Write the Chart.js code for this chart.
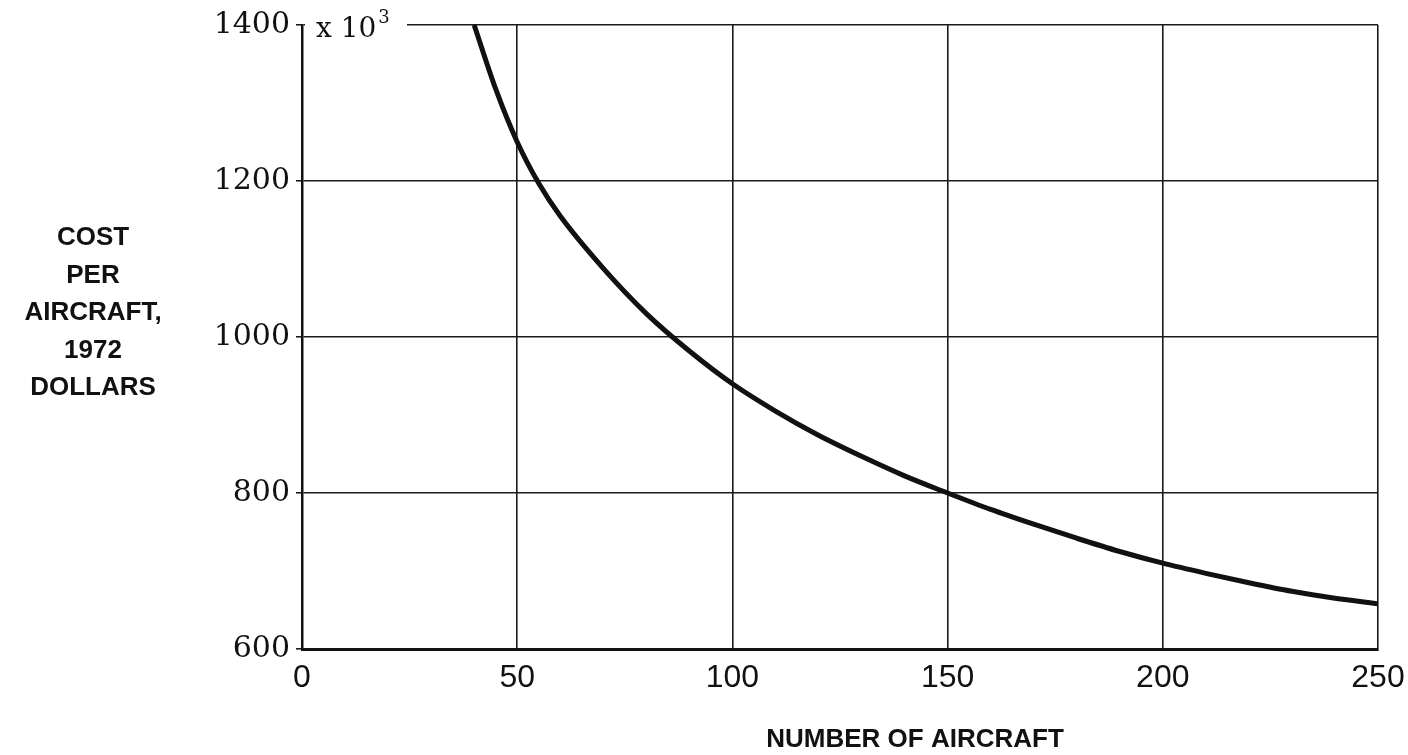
<!DOCTYPE html>
<html>
<head>
<meta charset="utf-8">
<title>Cost per aircraft</title>
<script src="https://cdn.jsdelivr.net/npm/chart.js@4.4.1/dist/chart.umd.min.js"></script>
<style>
    html, body { margin: 0; padding: 0; background: #fff; }
    #wrap { position: relative; width: 1408px; height: 755px; }
</style>
</head>
<body>
<div id="wrap"><canvas id="chartCosto"></canvas></div>
<script>
// ============================================
// Datos
// ============================================
const numAviones = [40, 45, 50, 55, 60, 70, 80, 90, 100, 110, 120, 130, 140, 150,
                    160, 170, 180, 190, 200, 210, 220, 230, 240, 250];
const costoPorAvion = [1400, 1318, 1250, 1197, 1155, 1088, 1030, 982, 940, 905, 874, 847, 822, 800,
                       779, 760, 742, 725, 710, 697, 685, 674, 665, 658];

const xTicks = [0, 50, 100, 150, 200, 250];
const yTicks = [600, 800, 1000, 1200, 1400];

const tituloY = ['COST', 'PER', 'AIRCRAFT,', '1972', 'DOLLARS'];
const tituloX = 'NUMBER OF AIRCRAFT';
const escala = ['x 10', '3'];

const ink = '#111';

// Textos fuera de los ejes (títulos y multiplicador)
const textosPlugin = {
    id: 'textos',
    afterDraw(chart) {
        const ctx = chart.ctx;
        const area = chart.chartArea;
        ctx.save();
        ctx.fillStyle = ink;

        // título eje Y, centrado en varias líneas
        ctx.font = 'bold 26px "Liberation Sans"';
        ctx.textAlign = 'center';
        ctx.textBaseline = 'middle';
        tituloY.forEach((t, i) => {
            ctx.fillText(t, 93, 238 + i * 37.5);
        });

        // título eje X
        ctx.fillText(tituloX, 915, 740);

        // "x 10^3" sobre la línea superior
        ctx.fillStyle = '#fff';
        ctx.fillRect(area.left + 3, area.top - 6, 102, 12);
        ctx.fillStyle = ink;
        ctx.textAlign = 'left';
        ctx.textBaseline = 'alphabetic';
        ctx.font = '28px "DejaVu Serif"';
        ctx.fillText(escala[0], area.left + 14, area.top + 12);
        const w = ctx.measureText(escala[0]).width;
        ctx.font = '18px "DejaVu Serif"';
        ctx.fillText(escala[1], area.left + 16 + w, area.top - 2);
        ctx.restore();
    }
};

const ctx = document.getElementById('chartCosto');

new Chart(ctx, {
    type: 'line',
    data: {
        datasets: [{
            data: numAviones.map((x, i) => ({ x: x, y: costoPorAvion[i] })),
            borderColor: ink,
            borderWidth: 5,
            pointRadius: 0,
            fill: false,
            cubicInterpolationMode: 'monotone'
        }]
    },
    options: {
        responsive: true,
        maintainAspectRatio: false,
        animation: false,
        layout: {
            padding: { top: 25, right: 30, bottom: 0, left: 0 }
        },
        plugins: {
            legend: { display: false },
            tooltip: { enabled: false }
        },
        scales: {
            x: {
                type: 'linear',
                min: 0,
                max: 250,
                afterFit(scale) {
                    scale.height = 106;
                    scale.paddingLeft = 0;
                    scale.paddingRight = 0;
                },
                afterBuildTicks(scale) { scale.ticks = xTicks.map(v => ({ value: v })); },
                grid: {
                    color: '#1a1a1a',
                    lineWidth: 1.6,
                    drawTicks: false
                },
                border: { color: ink, width: 3 },
                ticks: {
                    color: ink,
                    padding: 10,
                    font: { family: 'Liberation Sans', size: 32 },
                    callback: v => String(v)
                }
            },
            y: {
                type: 'linear',
                min: 600,
                max: 1400,
                afterFit(scale) { scale.width = 302; },
                afterBuildTicks(scale) { scale.ticks = yTicks.map(v => ({ value: v })); },
                grid: {
                    color: '#1a1a1a',
                    lineWidth: 1.6,
                    tickLength: 6
                },
                border: { color: ink, width: 2.5 },
                ticks: {
                    color: ink,
                    padding: 6,
                    font: { family: 'DejaVu Serif', size: 30 },
                    callback: v => String(v)
                }
            }
        }
    },
    plugins: [textosPlugin]
});
</script>
</body>
</html>
